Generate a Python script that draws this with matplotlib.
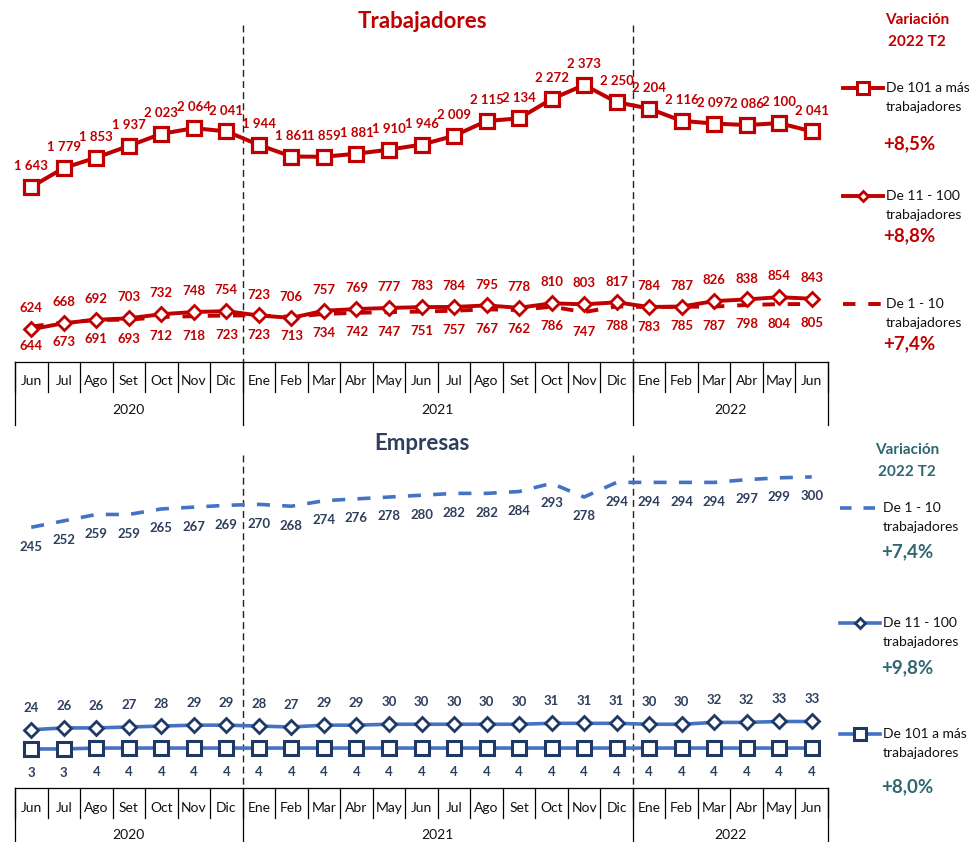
import matplotlib
matplotlib.use("Agg")
import matplotlib.pyplot as plt
from matplotlib.lines import Line2D
from matplotlib import transforms

plt.rcParams['font.family'] = ['Lato', 'DejaVu Sans']

# ---------------- data ----------------
months = ["Jun", "Jul", "Ago", "Set", "Oct", "Nov", "Dic",
          "Ene", "Feb", "Mar", "Abr", "May", "Jun", "Jul", "Ago", "Set", "Oct", "Nov", "Dic",
          "Ene", "Feb", "Mar", "Abr", "May", "Jun"]
years = ["2020", "2021", "2022"]
year_counts = [7, 12, 6]

trab_101 = [1643, 1779, 1853, 1937, 2023, 2064, 2041, 1944, 1861, 1859, 1881, 1910, 1946,
            2009, 2115, 2134, 2272, 2373, 2250, 2204, 2116, 2097, 2086, 2100, 2041]
trab_11_100 = [624, 668, 692, 703, 732, 748, 754, 723, 706, 757, 769, 777, 783,
               784, 795, 778, 810, 803, 817, 784, 787, 826, 838, 854, 843]
trab_1_10 = [644, 673, 691, 693, 712, 718, 723, 723, 713, 734, 742, 747, 751,
             757, 767, 762, 786, 747, 788, 783, 785, 787, 798, 804, 805]

emp_1_10 = [245, 252, 259, 259, 265, 267, 269, 270, 268, 274, 276, 278, 280,
            282, 282, 284, 293, 278, 294, 294, 294, 294, 297, 299, 300]
emp_11_100 = [24, 26, 26, 27, 28, 29, 29, 28, 27, 29, 29, 30, 30,
              30, 30, 30, 31, 31, 31, 30, 30, 32, 32, 33, 33]
emp_101 = [3, 3, 4, 4, 4, 4, 4, 4, 4, 4, 4, 4, 4,
           4, 4, 4, 4, 4, 4, 4, 4, 4, 4, 4, 4]

var_trab = ["+8,5%", "+8,8%", "+7,4%"]
var_emp = ["+7,4%", "+9,8%", "+8,0%"]
leg_trab = ["De 101 a más", "De 11 - 100", "De 1 - 10"]
leg_emp = ["De 1 - 10", "De 11 - 100", "De 101 a más"]
leg_second = "trabajadores"

# ---------------- style ----------------
W, H = 970, 842
RED = "#C00000"
BLUE = "#4472C4"
NAVY = "#1F3864"
NAVY_TXT = "#2E3F5E"
TEAL = "#2E6672"

fig = plt.figure(figsize=(W / 100, H / 100), dpi=100)


def fy(p):
    return 1 - p / H


def fx(p):
    return p / W


def fmt(v):
    return f"{v:,}".replace(",", " ")


x = list(range(len(months)))

# ---------------- axes ----------------
ax1 = fig.add_axes([fx(15), fy(362), fx(813), 322 / H])
ax1.set_xlim(-0.5, len(months) - 0.5)
ax1.set_ylim(390, 2695)
ax2 = fig.add_axes([fx(15), fy(788), fx(813), 333 / H])
ax2.set_xlim(-0.5, len(months) - 0.5)
ax2.set_ylim(-39.6, 323.9)

for ax in (ax1, ax2):
    for s in ("top", "left", "right"):
        ax.spines[s].set_visible(False)
    ax.spines["bottom"].set_color("black")
    ax.spines["bottom"].set_linewidth(0.9)
    ax.set_xticks([])
    ax.set_yticks([])
    ax.patch.set_alpha(0)


def draw_table(ax, axis_px, month_bot_px, month_y_px, year_y_px, bot_px, sep_top_px):
    tr = transforms.blended_transform_factory(ax.transData, fig.transFigure)
    n = len(months)
    for b in range(n + 1):
        xb = b - 0.5
        ax.plot([xb, xb], [fy(axis_px), fy(month_bot_px)], transform=tr,
                color="black", lw=0.9, clip_on=False)
    bounds = [-0.5]
    s = 0
    for c in year_counts:
        s += c
        bounds.append(s - 0.5)
    for xb in bounds:
        ax.plot([xb, xb], [fy(axis_px), fy(bot_px)], transform=tr,
                color="black", lw=0.9, clip_on=False)
    for xb in bounds[1:-1]:
        ax.plot([xb, xb], [fy(sep_top_px), fy(axis_px)], transform=tr,
                color="#222222", lw=1.0, ls=(0, (5, 3)), clip_on=False)
    for i, m in enumerate(months):
        ax.text(i, fy(month_y_px), m, transform=tr, ha="center", va="center",
                fontsize=10, color="#111111")
    for k, yr in enumerate(years):
        ax.text((bounds[k] + bounds[k + 1]) / 2, fy(year_y_px), yr, transform=tr,
                ha="center", va="center", fontsize=10, color="#111111")


draw_table(ax1, 362, 392, 381, 410, 425, 25)
draw_table(ax2, 788, 818, 808, 835, 842, 455)

# ---------------- top series ----------------
ax1.plot(x, trab_1_10, color=RED, lw=2.8, dashes=(3.2, 3.3), dash_capstyle="butt", zorder=2)
ax1.plot(x, trab_11_100, color=RED, lw=2.8, marker="D", ms=7.5, mfc="white",
         mec=RED, mew=2.0, zorder=3)
ax1.plot(x, trab_101, color=RED, lw=2.9, marker="s", ms=10, mfc="white",
         mec=RED, mew=2.3, zorder=4)

lab_kw = dict(textcoords="offset points", ha="center", va="center",
              fontsize=9.5, fontweight="bold", annotation_clip=False)
for i in x:
    ax1.annotate(fmt(trab_101[i]), (i, trab_101[i]), xytext=(0, 15), color=RED, **lab_kw)
    ax1.annotate(fmt(trab_11_100[i]), (i, trab_11_100[i]), xytext=(0, 15), color=RED, **lab_kw)
    ax1.annotate(fmt(trab_1_10[i]), (i, trab_1_10[i]), xytext=(0, -14), color=RED, **lab_kw)

# ---------------- bottom series ----------------
ax2.plot(x, emp_1_10, color=BLUE, lw=2.6, dashes=(3.6, 3.4), dash_capstyle="butt", zorder=2)
ax2.plot(x, emp_11_100, color=BLUE, lw=2.6, marker="D", ms=7, mfc="white",
         mec=NAVY, mew=2.0, zorder=3)
ax2.plot(x, emp_101, color=BLUE, lw=2.6, marker="s", ms=9.5, mfc="white",
         mec=NAVY, mew=2.2, zorder=4)

for i in x:
    ax2.annotate(fmt(emp_1_10[i]), (i, emp_1_10[i]), xytext=(0, -14), color=NAVY_TXT, **lab_kw)
    ax2.annotate(fmt(emp_11_100[i]), (i, emp_11_100[i]), xytext=(0, 16), color=NAVY_TXT, **lab_kw)
    ax2.annotate(fmt(emp_101[i]), (i, emp_101[i]), xytext=(0, -17), color=NAVY_TXT, **lab_kw)

# ---------------- titles ----------------
fig.text(fx(422), fy(22), "Trabajadores", ha="center", va="center",
         fontsize=16, fontweight="bold", color=RED)
fig.text(fx(422), fy(443), "Empresas", ha="center", va="center",
         fontsize=16, fontweight="bold", color=NAVY_TXT)

# ---------------- side legends ----------------
fig.text(fx(917), fy(20), "Variación", ha="center", va="center",
         fontsize=11, fontweight="bold", color=RED)
fig.text(fx(917), fy(42), "2022 T2", ha="center", va="center",
         fontsize=11, fontweight="bold", color=RED)
fig.text(fx(907), fy(450), "Variación", ha="center", va="center",
         fontsize=11, fontweight="bold", color=TEAL)
fig.text(fx(907), fy(472), "2022 T2", ha="center", va="center",
         fontsize=11, fontweight="bold", color=TEAL)


def legend_entry(x0, x1, ypx, color, mcolor, style, label, var, var_y, var_x, var_color, lw):
    if style == "dash":
        fig.add_artist(Line2D([fx(x0), fx(x1)], [fy(ypx), fy(ypx)], transform=fig.transFigure,
                              color=color, lw=lw, dashes=(3.2, 3.3)))
    else:
        fig.add_artist(Line2D([fx(x0), fx(x1)], [fy(ypx), fy(ypx)], transform=fig.transFigure,
                              color=color, lw=lw))
        if style == "square":
            fig.add_artist(Line2D([fx((x0 + x1) / 2)], [fy(ypx)], transform=fig.transFigure,
                                  marker="s", ms=8, mfc="white", mec=mcolor, mew=2.2, lw=0))
        else:
            fig.add_artist(Line2D([fx((x0 + x1) / 2)], [fy(ypx)], transform=fig.transFigure,
                                  marker="D", ms=5.5, mfc="white", mec=mcolor, mew=2.0, lw=0))
    fig.text(fx(x1 + 3), fy(ypx), label, ha="left", va="center", fontsize=10,
             color="#111111")
    fig.text(fx(x1 + 3), fy(ypx + 19), leg_second, ha="left", va="center", fontsize=10,
             color="#111111")
    fig.text(fx(var_x), fy(var_y), var, ha="center", va="center", fontsize=13.5,
             fontweight="bold", color=var_color)


styles_trab = ["square", "diamond", "dash"]
ys_trab = [88, 196, 304]
vy_trab = [144, 236, 344]
for k in range(3):
    legend_entry(843, 883, ys_trab[k], RED, RED, styles_trab[k], leg_trab[k],
                 var_trab[k], vy_trab[k], 909, RED, 2.8)

styles_emp = ["dash", "diamond", "square"]
ys_emp = [508, 623, 734]
vy_emp = [552, 668, 787]
for k in range(3):
    legend_entry(840, 880, ys_emp[k], BLUE, NAVY, styles_emp[k], leg_emp[k],
                 var_emp[k], vy_emp[k], 907, TEAL, 2.6)

fig.savefig("out.png", dpi=100)
